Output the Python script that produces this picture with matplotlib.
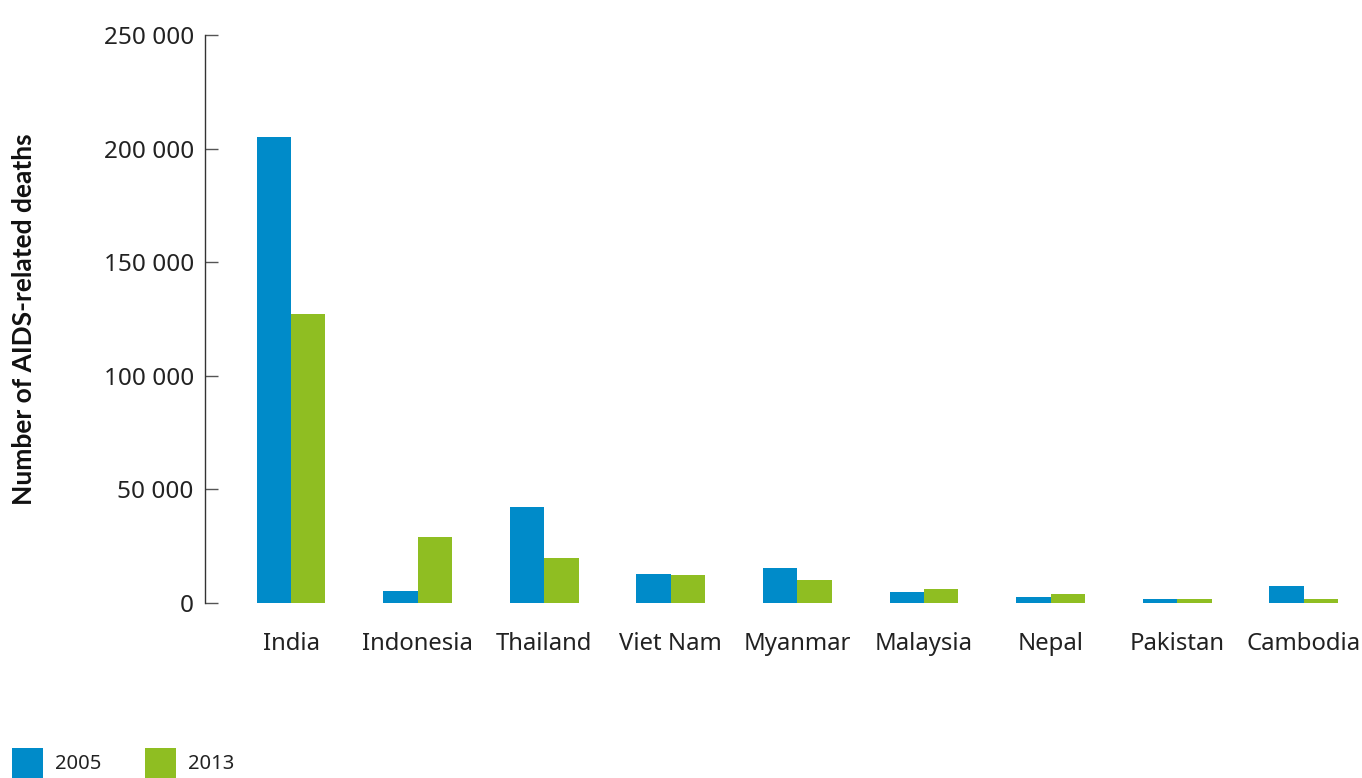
import matplotlib
matplotlib.use("Agg")
import matplotlib.pyplot as plt
import numpy as np
from matplotlib.ticker import FuncFormatter
from matplotlib.patches import Rectangle

countries = ["India", "Indonesia", "Thailand", "Viet Nam", "Myanmar",
             "Malaysia", "Nepal", "Pakistan", "Cambodia"]
deaths_2005 = [205000, 5300, 42300, 12800, 15400, 4800, 2600, 1800, 7500]
deaths_2013 = [127000, 29000, 19800, 12300, 10100, 6200, 4000, 1800, 1800]
series_labels = ["2005", "2013"]
yticks = [0, 50000, 100000, 150000, 200000, 250000]

BLUE = "#008BC9"
GREEN = "#8FBE22"
TXT = "#222222"
W, H = 1362, 778

plt.rcParams["font.family"] = ["Noto Sans", "DejaVu Sans"]

fig = plt.figure(figsize=(W / 100, H / 100), dpi=100)
ax = fig.add_axes([0.1505, 0.225, 0.8495, 0.73])

x = np.arange(len(countries))
w = 0.272
ax.bar(x - w / 2, deaths_2005, width=w, color=BLUE, linewidth=0, label=series_labels[0])
ax.bar(x + w / 2, deaths_2013, width=w, color=GREEN, linewidth=0, label=series_labels[1])

ax.set_xlim(-0.68, 8.46)
ax.set_ylim(0, 250000)
ax.set_yticks(yticks)
ax.yaxis.set_major_formatter(FuncFormatter(lambda v, p: f"{int(v):,}".replace(",", " ")))
ax.set_xticks(x)
ax.set_xticklabels(countries)

for s in ["top", "right", "bottom"]:
    ax.spines[s].set_visible(False)
ax.spines["left"].set_color("#333333")
ax.spines["left"].set_linewidth(1.0)

ax.tick_params(axis="y", direction="in", length=9, width=1.0, color="#555555",
               labelsize=17.5, labelcolor=TXT, pad=8)
ax.tick_params(axis="x", length=0, labelsize=17.2, labelcolor=TXT, pad=21)

fig.text(0.009, 0.59, "Number of AIDS-related deaths", rotation=90,
         ha="left", va="center", fontsize=19, fontweight="bold", color="#111111",
         family=["Lato", "DejaVu Sans"])

# legend (bottom left)
for i, (lab, col) in enumerate(zip(series_labels, [BLUE, GREEN])):
    x0 = 12 + i * 133
    fig.patches.append(Rectangle((x0 / W, 0), 31 / W, 30 / H, transform=fig.transFigure,
                                 facecolor=col, edgecolor="none"))
    fig.text((x0 + 43) / W, 14 / H, lab, ha="left", va="center", fontsize=14.5, color=TXT)

fig.savefig("out.png", dpi=100)
